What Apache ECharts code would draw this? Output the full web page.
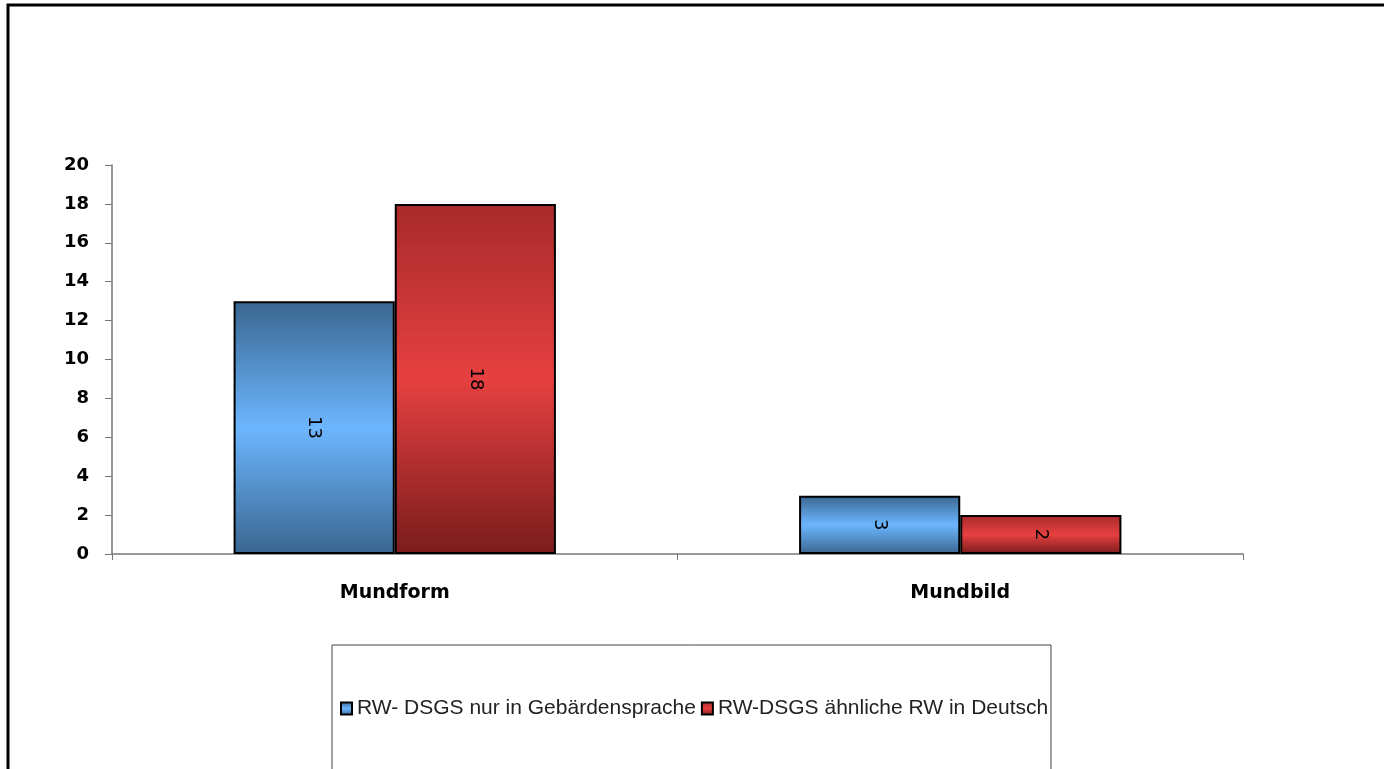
<!DOCTYPE html>
<html><head><meta charset="utf-8">
<script src="https://cdn.jsdelivr.net/npm/echarts@6/dist/echarts.min.js"></script>
<style>html,body{margin:0;padding:0;background:#fff}#c{width:1384px;height:769px}</style>
</head><body><div id="c"></div>
<script>
const categories = ['Mundform', 'Mundbild'];
const seriesNames = ['RW- DSGS nur in Gebärdensprache', 'RW-DSGS ähnliche RW in Deutsch'];
const seriesBlue = [13, 3];
const seriesRed = [18, 2];
const yTicks = [0, 20, 2];

const blueGrad = new echarts.graphic.LinearGradient(0,0,0,1,[
  {offset:0,color:'#3a6690'},{offset:0.5,color:'#6cb6ff'},{offset:1,color:'#3a6690'}]);
const redGrad = new echarts.graphic.LinearGradient(0,0,0,1,[
  {offset:0,color:'#a82a2a'},{offset:0.5,color:'#e64040'},{offset:1,color:'#7a1c1c'}]);

const chart = echarts.init(document.getElementById('c'));
const lbl = {show:true, position:'inside', rotate:-90, color:'#000', fontFamily:'DejaVu Sans', fontSize:18, formatter:'{c}'};
chart.setOption({
  animation:false,
  backgroundColor:'#fff',
  graphic:[
    {type:'rect', shape:{x:8,y:5,width:1420,height:820}, style:{fill:'none', stroke:'#000', lineWidth:3}, z:0},
    {type:'rect', shape:{x:332,y:645,width:719,height:140}, style:{fill:'#fff', stroke:'#444', lineWidth:1}, z:0}
  ],
  grid:{left:112, right:141, top:165, bottom:215},
  legend:{
    data:seriesNames, left:340, top:698, padding:0, itemWidth:11, itemHeight:12, itemGap:5,
    icon:'rect',
    textStyle:{fontFamily:'Liberation Sans, Arial', fontSize:21, color:'#222', padding:[0,0,0,0]}
  },
  xAxis:{
    type:'category', data:categories,
    axisLine:{lineStyle:{color:'#777', width:1.5}},
    axisTick:{show:true, length:6, lineStyle:{color:'#777'}},
    axisLabel:{color:'#000', fontWeight:'bold', fontFamily:'DejaVu Sans', fontSize:19, margin:30}
  },
  yAxis:{
    type:'value', min:yTicks[0], max:yTicks[1], interval:yTicks[2],
    axisLine:{show:true, lineStyle:{color:'#777', width:1.5}},
    axisTick:{show:true, length:7, lineStyle:{color:'#777'}},
    splitLine:{show:false},
    axisLabel:{color:'#000', fontWeight:'bold', fontFamily:'DejaVu Sans', fontSize:18, margin:23}
  },
  series:[
    {name:seriesNames[0], type:'bar', data:seriesBlue, barGap:'0%', barCategoryGap:'43%',
     itemStyle:{color:blueGrad, borderColor:'#000', borderWidth:2}, label:lbl},
    {name:seriesNames[1], type:'bar', data:seriesRed,
     itemStyle:{color:redGrad, borderColor:'#000', borderWidth:2}, label:lbl}
  ]
});
</script></body></html>
